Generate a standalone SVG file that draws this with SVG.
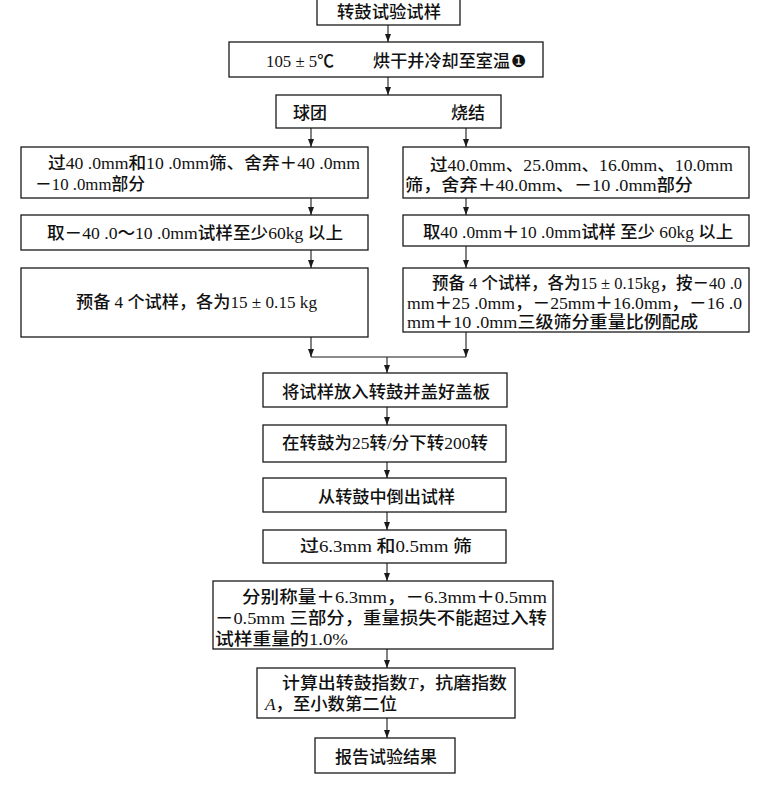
<svg xmlns="http://www.w3.org/2000/svg" width="760" height="785" viewBox="0 0 760 785">
<defs>
<style>
.box{fill:#fff;stroke:#1a1a1a;stroke-width:1.3}
.t{font-family:"Liberation Serif","Noto Sans CJK SC",serif;font-size:16.5px;font-weight:500;fill:#111}
.i{font-style:italic}
.c{fill:none;stroke:#1a1a1a;stroke-width:1.1}
</style>
<marker id="ah" markerUnits="userSpaceOnUse" markerWidth="8" markerHeight="6" refX="8" refY="3" orient="auto">
<path d="M0,0 L8,3 L0,6 z" fill="#1a1a1a"/>
</marker>
</defs>
<rect width="760" height="785" fill="#fff"/>

<g id="connectors">
<line class="c" x1="388" y1="25" x2="388" y2="42" marker-end="url(#ah)"/>
<line class="c" x1="388" y1="77" x2="388" y2="95" marker-end="url(#ah)"/>
<line class="c" x1="311" y1="128" x2="311" y2="147" marker-end="url(#ah)"/>
<line class="c" x1="466" y1="128" x2="466" y2="147" marker-end="url(#ah)"/>
<line class="c" x1="311" y1="198" x2="311" y2="215" marker-end="url(#ah)"/>
<line class="c" x1="311" y1="250" x2="311" y2="268" marker-end="url(#ah)"/>
<line class="c" x1="466" y1="198" x2="466" y2="215" marker-end="url(#ah)"/>
<line class="c" x1="466" y1="246" x2="466" y2="268" marker-end="url(#ah)"/>
<line class="c" x1="311" y1="337" x2="311" y2="357" marker-end="url(#ah)"/>
<line class="c" x1="466" y1="332" x2="466" y2="357" marker-end="url(#ah)"/>
<line class="c" x1="311" y1="357" x2="466" y2="357"/>
<line class="c" x1="387" y1="357" x2="387" y2="373" marker-end="url(#ah)"/>
<line class="c" x1="387" y1="407" x2="387" y2="425" marker-end="url(#ah)"/>
<line class="c" x1="387" y1="462" x2="387" y2="478" marker-end="url(#ah)"/>
<line class="c" x1="387" y1="512" x2="387" y2="530" marker-end="url(#ah)"/>
<line class="c" x1="387" y1="563" x2="387" y2="581" marker-end="url(#ah)"/>
<line class="c" x1="387" y1="649" x2="387" y2="668" marker-end="url(#ah)"/>
<line class="c" x1="387" y1="718" x2="387" y2="738" marker-end="url(#ah)"/>
</g>

<g id="n1">
<rect class="box" x="317" y="-2" width="143" height="27"/>
<text class="t" x="337" y="18" textLength="104" lengthAdjust="spacingAndGlyphs">转鼓试验试样</text>
</g>

<g id="n2">
<rect class="box" x="229" y="42" width="314" height="35"/>
<text class="t" x="266" y="67" textLength="68" lengthAdjust="spacingAndGlyphs">105 ± 5℃</text>
<text class="t" x="373" y="67" textLength="137" lengthAdjust="spacingAndGlyphs">烘干并冷却至室温</text>
<text x="511" y="67" style="font-family:'DejaVu Sans',sans-serif;font-size:17px;fill:#111">❶</text>
</g>

<g id="n3">
<rect class="box" x="276" y="95" width="225" height="33"/>
<text class="t" x="293" y="119" textLength="34" lengthAdjust="spacingAndGlyphs">球团</text>
<text class="t" x="451" y="119" textLength="34" lengthAdjust="spacingAndGlyphs">烧结</text>
</g>

<g id="l1">
<rect class="box" x="21" y="147" width="347" height="51"/>
<text class="t" x="48" y="169" textLength="312" lengthAdjust="spacingAndGlyphs">过40 .0mm和10 .0mm筛、舍弃＋40 .0mm</text>
<text class="t" x="35" y="190" textLength="110" lengthAdjust="spacingAndGlyphs">－10 .0mm部分</text>
</g>

<g id="l2">
<rect class="box" x="21" y="215" width="347" height="35"/>
<text class="t" x="47" y="239" textLength="296" lengthAdjust="spacingAndGlyphs">取－40 .0～10 .0mm试样至少60kg 以上</text>
</g>

<g id="l3">
<rect class="box" x="21" y="268" width="347" height="69"/>
<text class="t" x="76" y="308" textLength="241" lengthAdjust="spacingAndGlyphs">预备 4 个试样，各为15 ± 0.15 kg</text>
</g>

<g id="r1">
<rect class="box" x="403" y="147" width="346" height="51"/>
<text class="t" x="430" y="171" textLength="303" lengthAdjust="spacingAndGlyphs">过40.0mm、25.0mm、16.0mm、10.0mm</text>
<text class="t" x="405" y="191" textLength="288" lengthAdjust="spacingAndGlyphs">筛，舍弃＋40.0mm、－10 .0mm部分</text>
</g>

<g id="r2">
<rect class="box" x="403" y="215" width="346" height="31"/>
<text class="t" x="423" y="238" textLength="310" lengthAdjust="spacingAndGlyphs">取40 .0mm＋10 .0mm试样 至少 60kg 以上</text>
</g>

<g id="r3">
<rect class="box" x="403" y="268" width="346" height="64"/>
<text class="t" x="432" y="289" textLength="310" lengthAdjust="spacingAndGlyphs">预备 4 个试样，各为15 ± 0.15kg，按－40 .0</text>
<text class="t" x="407" y="309" textLength="335" lengthAdjust="spacingAndGlyphs">mm＋25 .0mm，－25mm＋16.0mm，－16 .0</text>
<text class="t" x="407" y="328" textLength="291" lengthAdjust="spacingAndGlyphs">mm＋10 .0mm三级筛分重量比例配成</text>
</g>

<g id="m1">
<rect class="box" x="263" y="373" width="244" height="34"/>
<text class="t" x="282" y="398" textLength="208" lengthAdjust="spacingAndGlyphs">将试样放入转鼓并盖好盖板</text>
</g>

<g id="m2">
<rect class="box" x="263" y="425" width="243" height="37"/>
<text class="t" x="282" y="449" textLength="206" lengthAdjust="spacingAndGlyphs">在转鼓为25转/分下转200转</text>
</g>

<g id="m3">
<rect class="box" x="263" y="478" width="243" height="34"/>
<text class="t" x="318" y="503" textLength="137" lengthAdjust="spacingAndGlyphs">从转鼓中倒出试样</text>
</g>

<g id="m4">
<rect class="box" x="263" y="530" width="243" height="33"/>
<text class="t" x="300" y="552" textLength="172" lengthAdjust="spacingAndGlyphs">过6.3mm 和0.5mm 筛</text>
</g>

<g id="m5">
<rect class="box" x="213" y="581" width="340" height="68"/>
<text class="t" x="242" y="603" textLength="305" lengthAdjust="spacingAndGlyphs">分别称量＋6.3mm，－6.3mm＋0.5mm</text>
<text class="t" x="215" y="624" textLength="332" lengthAdjust="spacingAndGlyphs">－0.5mm 三部分，重量损失不能超过入转</text>
<text class="t" x="215" y="645" textLength="133" lengthAdjust="spacingAndGlyphs">试样重量的1.0%</text>
</g>

<g id="m6">
<rect class="box" x="257" y="668" width="258" height="50"/>
<text class="t" x="282" y="689" textLength="225" lengthAdjust="spacingAndGlyphs">计算出转鼓指数<tspan class="i">T</tspan>，抗磨指数</text>
<text class="t" x="265" y="710" textLength="132" lengthAdjust="spacingAndGlyphs"><tspan class="i">A</tspan>，至小数第二位</text>
</g>

<g id="m7">
<rect class="box" x="315" y="738" width="140" height="35"/>
<text class="t" x="335" y="763" textLength="102" lengthAdjust="spacingAndGlyphs">报告试验结果</text>
</g>
</svg>
